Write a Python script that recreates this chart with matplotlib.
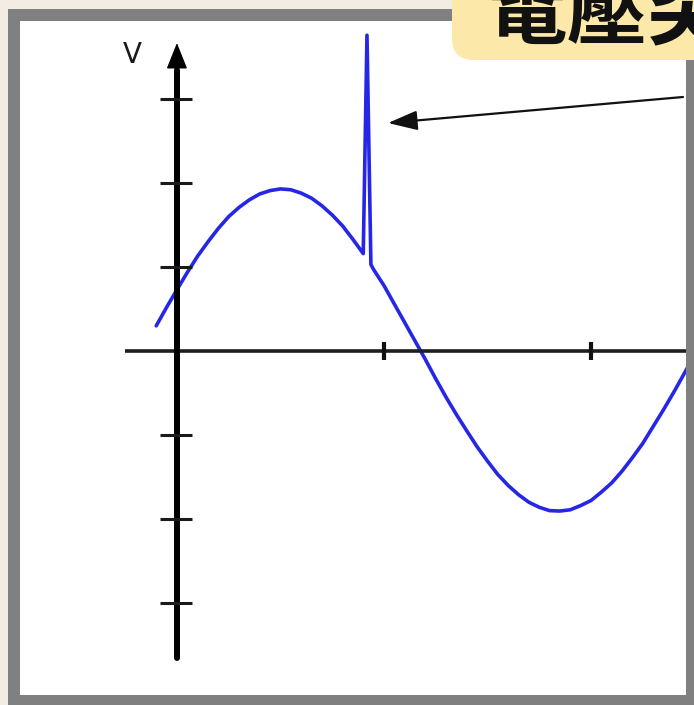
import matplotlib
matplotlib.use("Agg")
import matplotlib.pyplot as plt
from matplotlib.patches import Rectangle, FancyBboxPatch

# ---------------- data ----------------
wave_x = [-0.10, -0.05, 0.00, 0.05, 0.10, 0.15, 0.20, 0.25, 0.30, 0.35,
          0.40, 0.45, 0.50, 0.55, 0.60, 0.65, 0.70, 0.75, 0.80, 0.85,
          0.90, 0.918, 0.937, 0.95, 1.00, 1.05, 1.10, 1.15, 1.20, 1.25,
          1.30, 1.35, 1.40, 1.45, 1.50, 1.55, 1.60, 1.65, 1.70, 1.75,
          1.80, 1.85, 1.90, 1.95, 2.00, 2.05, 2.10, 2.15, 2.20, 2.25,
          2.30, 2.35, 2.40, 2.45, 2.47]
wave_y = [0.30, 0.52, 0.73, 0.935, 1.13, 1.30, 1.46, 1.60, 1.71, 1.80,
          1.87, 1.91, 1.93, 1.92, 1.88, 1.82, 1.73, 1.62, 1.49, 1.33,
          1.16, 3.76, 1.03, 0.97, 0.78, 0.56, 0.34, 0.12, -0.10, -0.33,
          -0.55, -0.756, -0.95, -1.14, -1.31, -1.47, -1.60, -1.71, -1.80, -1.86,
          -1.90, -1.905, -1.89, -1.84, -1.78, -1.68, -1.57, -1.43, -1.27, -1.10,
          -0.90, -0.70, -0.49, -0.27, -0.18]
y_ticks = [-3, -2, -1, 1, 2, 3]
x_ticks = [1, 2]
y_label = "V"
title_text = "電壓突波"

# ---------------- figure ----------------
W, H = 694, 705
fig = plt.figure(figsize=(W / 100, H / 100), dpi=100)
fig.patch.set_facecolor("#f3ece3")

# background frame axes in pixel coordinates
bg = fig.add_axes([0, 0, 1, 1])
bg.set_xlim(0, W)
bg.set_ylim(H, 0)
bg.axis("off")
bg.add_patch(Rectangle((8, 9), W, H, facecolor="#808080", edgecolor="none", zorder=1))
bg.add_patch(Rectangle((20, 21), 666, 674, facecolor="white", edgecolor="none", zorder=2))
bg.add_patch(FancyBboxPatch((452, -40), 300, 100,
                            boxstyle="round,pad=0,rounding_size=22",
                            facecolor="#fce8a8", edgecolor="none", zorder=3))
bg.text(486, 38, title_text, fontsize=58, fontweight="bold", color="#111111",
        family=["Noto Sans CJK TC", "DejaVu Sans"], ha="left", va="baseline",
        zorder=4, clip_on=True)

# main data axes covering the white panel
ax = fig.add_axes([20 / W, 10 / H, 666 / W, 674 / H])
ax.set_xlim(-0.758, 2.459)
ax.set_ylim(-4.095, 3.929)
ax.axis("off")
ax.patch.set_alpha(0)

# curve
ax.plot(wave_x, wave_y, color="#2626e6", lw=2.6, solid_joinstyle="round",
        solid_capstyle="round", zorder=2)

# x axis
ax.plot([-0.251, 2.47], [0, 0], color="#1e1e1e", lw=2.6, zorder=3,
        solid_capstyle="butt")
ax.vlines(x_ticks, -0.11, 0.11, color="#111111", lw=3.0, zorder=3)

# y axis with arrow
ax.plot([0, 0], [-3.655, 3.35], color="black", lw=4.3, zorder=3,
        solid_capstyle="round")
ax.annotate("", xy=(0, 3.667), xytext=(0, 3.2),
            arrowprops=dict(arrowstyle="-|>,head_length=0.55,head_width=0.22",
                            mutation_scale=30, color="black", lw=1, shrinkA=0, shrinkB=0),
            zorder=4)
ax.hlines(y_ticks, -0.082, 0.072, color="#1a1a1a", lw=2.2, zorder=3)
ax.text(-0.217, 3.52, y_label, fontsize=20, fontweight="normal", color="#1a1a1a",
        ha="center", va="center", zorder=4)

# arrow pointing at the spike (pixel coordinates)
bg.annotate("", xy=(388, 123), xytext=(683, 97),
            arrowprops=dict(arrowstyle="-|>,head_length=0.9,head_width=0.3",
                            mutation_scale=20, color="#111111", lw=1.6,
                            shrinkA=0, shrinkB=0), zorder=5)
bg.set_zorder(0)
ax.set_zorder(1)
fig.savefig("out.png", dpi=100, facecolor=fig.get_facecolor())
